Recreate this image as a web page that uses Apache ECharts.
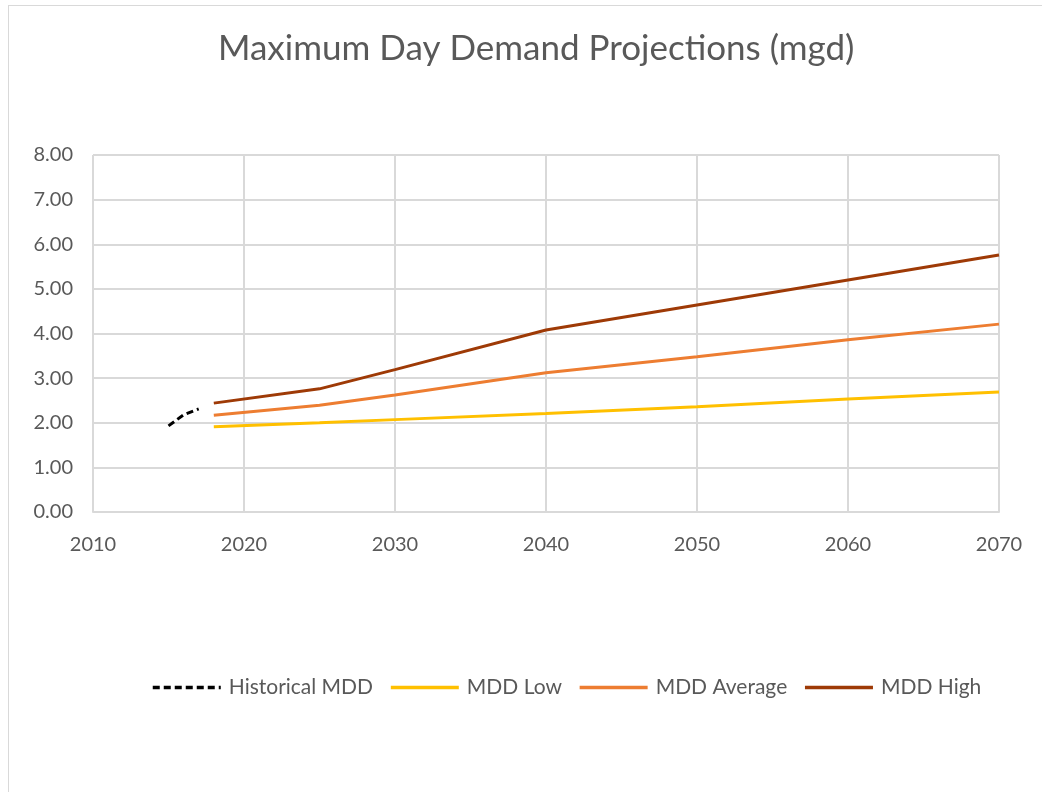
<!DOCTYPE html>
<html>
<head>
<meta charset="utf-8">
<script src="https://cdn.jsdelivr.net/npm/echarts@6/dist/echarts.min.js"></script>
<style>
html,body{margin:0;padding:0;background:#fff;}
#frame{position:absolute;left:8px;top:5px;width:1040px;height:792px;border:1px solid #d9d9d9;box-sizing:border-box;}
#chart{position:absolute;left:0;top:0;width:1042px;height:792px;}
</style>
</head>
<body>
<div id="frame"></div>
<div id="chart"></div>
<script>
const histYears = [2015, 2016, 2017];
const histValues = [1.93, 2.18, 2.31];
const projYears = [2018, 2025, 2030, 2040, 2050, 2060, 2070];
const lowValues = [1.91, 2.00, 2.07, 2.21, 2.36, 2.53, 2.69];
const avgValues = [2.17, 2.39, 2.62, 3.12, 3.48, 3.86, 4.21];
const highValues = [2.44, 2.76, 3.19, 4.08, 4.64, 5.20, 5.76];
const seriesNames = ['Historical MDD', 'MDD Low', 'MDD Average', 'MDD High'];
const titleText = 'Maximum Day Demand Projections (mgd)';

const pair = (xs, ys) => xs.map((x, i) => [x, ys[i]]);
const font = 'Lato, "Open Sans", sans-serif';
const chart = echarts.init(document.getElementById('chart'), null, {renderer: 'canvas'});
chart.setOption({
  animation: false,
  backgroundColor: 'transparent',
  title: {
    text: titleText, left: 213, top: 26,
    textStyle: {fontFamily: font, fontSize: 35, fontWeight: 'normal', color: '#595959'}
  },
  grid: {left: 93, right: 43, top: 155, bottom: 280, containLabel: false},
  xAxis: {
    type: 'value', min: 2010, max: 2070, interval: 10,
    axisLine: {show: true, lineStyle: {color: '#d9d9d9', width: 2}},
    axisTick: {show: false},
    splitLine: {show: true, lineStyle: {color: '#d9d9d9', width: 2}},
    axisLabel: {color: '#595959', fontFamily: font, fontSize: 20, margin: 23, formatter: v => String(v)}
  },
  yAxis: {
    type: 'value', min: 0, max: 8, interval: 1,
    axisLine: {show: false},
    axisTick: {show: false},
    splitLine: {show: true, lineStyle: {color: '#d9d9d9', width: 2}},
    axisLabel: {color: '#595959', fontFamily: font, fontSize: 20, margin: 20, formatter: v => v.toFixed(2)}
  },
  legend: {
    top: 672, left: 146, itemWidth: 68, itemHeight: 20, itemGap: 16,
    itemStyle: {opacity: 0},
    lineStyle: {width: 3.5},
    textStyle: {color: '#595959', fontFamily: font, fontSize: 21, padding: [0, 0, 0, 3]},
    data: seriesNames
  },
  series: [
    {name: seriesNames[0], type: 'line', data: pair(histYears, histValues), showSymbol: false, symbol: 'none',
     lineStyle: {color: '#000', width: 3, type: [7, 4]}, itemStyle: {color: '#000'}},
    {name: seriesNames[1], type: 'line', data: pair(projYears, lowValues), showSymbol: false, symbol: 'none',
     lineStyle: {color: '#FFC000', width: 3}, itemStyle: {color: '#FFC000'}},
    {name: seriesNames[2], type: 'line', data: pair(projYears, avgValues), showSymbol: false, symbol: 'none',
     lineStyle: {color: '#ED7D31', width: 3}, itemStyle: {color: '#ED7D31'}},
    {name: seriesNames[3], type: 'line', data: pair(projYears, highValues), showSymbol: false, symbol: 'none',
     lineStyle: {color: '#9E3A06', width: 3}, itemStyle: {color: '#9E3A06'}}
  ]
});
</script>
</body>
</html>
